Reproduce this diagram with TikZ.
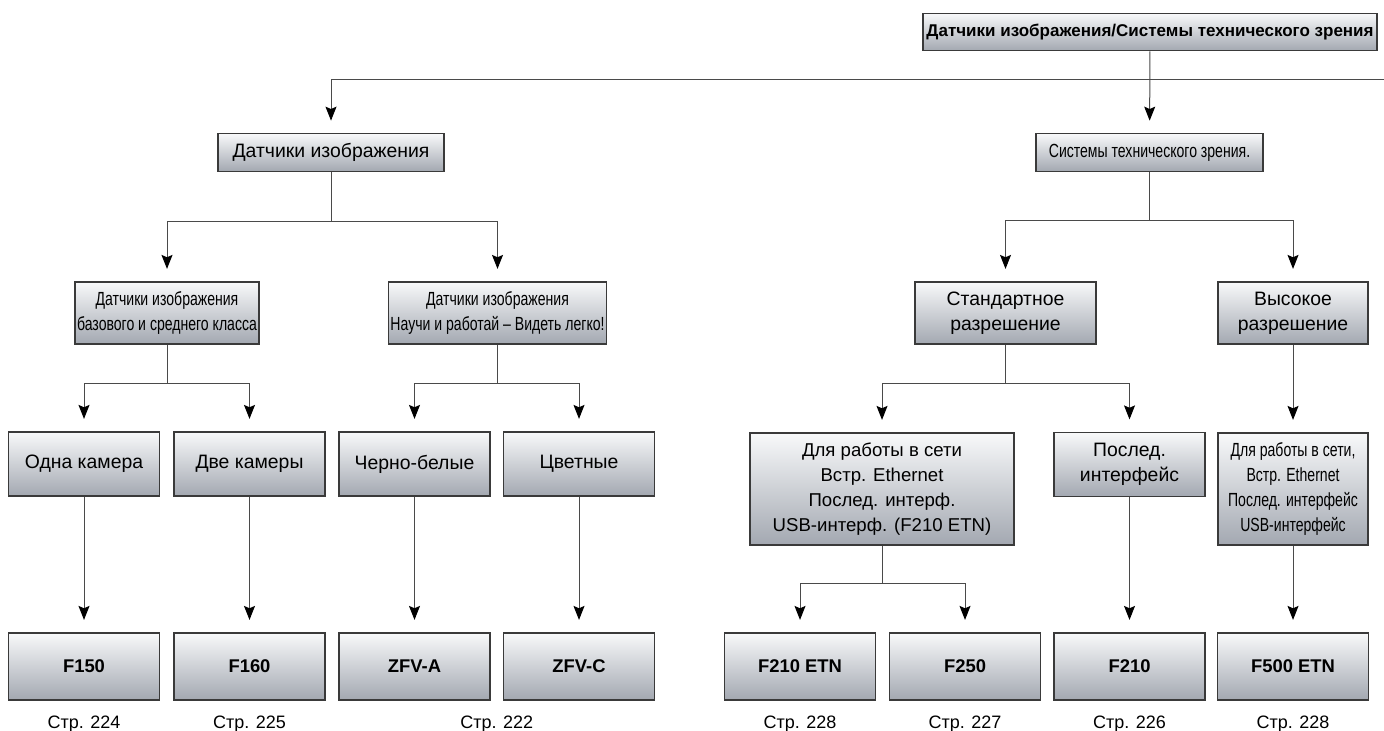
\documentclass[tikz,border=0pt]{standalone}
\usepackage{fontspec}
\setmainfont{Liberation Sans}
\newfontfamily\condfont[FakeStretch=0.74]{Liberation Sans}
\usepackage{tikz}
\usetikzlibrary{positioning,calc,arrows.meta}
\definecolor{boxtop}{HTML}{F8F9FA}
\definecolor{boxbot}{HTML}{A3A8B1}
\definecolor{boxline}{HTML}{3A3A3A}
\definecolor{wire}{HTML}{4A4A4A}

\begin{document}
\begin{tikzpicture}[x=0.5pt, y=-0.5pt,
      box/.style={draw=boxline, line width=0.6pt, top color=boxtop, bottom color=boxbot, inner sep=1pt, align=center, font=\fontsize{9.7}{12.5}\selectfont},
      cond/.style={font=\condfont\fontsize{9.5}{12.5}\selectfont},
      prod/.style={box, font=\bfseries\fontsize{9.2}{11}\selectfont, minimum width=75.5pt, minimum height=33.5pt},
      h1/.style={minimum height=18.75pt},
      h2/.style={minimum height=31pt},
      h3/.style={minimum height=32pt},
      h4/.style={minimum height=56pt},
      catw/.style={minimum width=75.5pt},
      arr/.style={draw=wire, line width=0.5pt, -{Stealth[length=7pt, width=5.5pt, inset=1.2pt, color=black]}, shorten >=6.25pt},
      pg/.style={font=\fontsize{9}{11}\selectfont, inner sep=0pt}]
    \useasboundingbox (0,0) rectangle (1384,731);

    \node[box, font=\bfseries\fontsize{8.5}{10}\selectfont, minimum width=227pt, h1] (root) at (1150,32) {Датчики изображения/Системы технического зрения};
    \node[box, minimum width=113pt, h1] (sens) at (331,152.5) {Датчики изображения};
    \node[box, cond, minimum width=113.5pt, h1] (vis) at (1149.5,152.5) {Системы технического зрения.};

    \node[box, cond, minimum width=91pt, h2] (basic) at (167,313) {Датчики изображения\\базового и среднего класса};
    \node[box, cond, minimum width=90.5pt, h2] (easy) at (497.5,313) {Датчики изображения\\Научи и работай – Видеть легко!};
    \node[box, minimum width=90.5pt, h2] (std) at (1005.5,313) {Стандартное\\разрешение};
    \node[box, minimum width=75pt, h2] (high) at (1293,313) {Высокое\\разрешение};

    \node[box, catw, h3] (one) at (84,464) {Одна камера};
    \node[box, catw, h3] (two) at (249.5,464) {Две камеры};
    \node[box, catw, h3] (bw) at (414.5,464) {Черно-белые};
    \node[box, catw, h3] (col) at (579,464) {Цветные};
    \node[box, font=\fontsize{9.3}{12.5}\selectfont, minimum width=132pt, h4] (net) at (882,489) {Для работы в сети\\Встр. Ethernet\\Послед. интерф.\\USB-интерф. (F210 ETN)};
    \node[box, catw, h3] (ser) at (1129.5,464.5) {Послед.\\интерфейс};
    \node[box, cond, minimum width=75pt, h4] (nethi) at (1293,489) {Для работы в сети,\\Встр. Ethernet\\Послед. интерфейс\\USB-интерфейс};

    \node[prod] (f150) at (84,666.5) {F150};
    \node[prod] (f160) at (249.5,666.5) {F160};
    \node[prod] (zfva) at (414.5,666.5) {ZFV-A};
    \node[prod] (zfvc) at (579,666.5) {ZFV-C};
    \node[prod] (f210etn) at (800,666.5) {F210 ETN};
    \node[prod] (f250) at (965,666.5) {F250};
    \node[prod] (f210) at (1129.5,666.5) {F210};
    \node[prod] (f500) at (1293,666.5) {F500 ETN};

    \node[pg, below=7.5pt of f150] (p224) {Стр. 224};
    \node[pg, below=7.5pt of f160] (p225) {Стр. 225};
    \node[pg, below=7.5pt] (p222) at ($(zfva.south)!.5!(zfvc.south)$) {Стр. 222};
    \node[pg, below=7.5pt of f210etn] (p228a) {Стр. 228};
    \node[pg, below=7.5pt of f250] (p227) {Стр. 227};
    \node[pg, below=7.5pt of f210] (p226) {Стр. 226};
    \node[pg, below=7.5pt of f500] (p228b) {Стр. 228};

    \coordinate (redge) at (1384,80);
    \draw[arr] (root) -- (vis);
    \draw[arr] (redge) -| (sens);

    \coordinate[below=25pt of sens] (sj);
    \draw[arr] (sens) -- (sj) -| (basic);
    \draw[arr] (sj) -| (easy);
    \coordinate[below=24.25pt of vis] (vj);
    \draw[arr] (vis) -- (vj) -| (std);
    \draw[arr] (vj) -| (high);

    \coordinate[below=19.5pt of basic] (bj);
    \draw[arr] (basic) -- (bj) -| (one);
    \draw[arr] (bj) -| (two);
    \coordinate[below=19.5pt of easy] (ej);
    \draw[arr] (easy) -- (ej) -| (bw);
    \draw[arr] (ej) -| (col);
    \coordinate[below=19.5pt of std] (stj);
    \draw[arr] (std) -- (stj) -| (net);
    \draw[arr] (stj) -| (ser);
    \draw[arr] (high) -- (nethi);

    \coordinate[below=19pt of net] (nj);
    \draw[arr] (net) -- (nj) -| (f210etn);
    \draw[arr] (nj) -| (f250);
    \draw[arr] (one) -- (f150);
    \draw[arr] (two) -- (f160);
    \draw[arr] (bw) -- (zfva);
    \draw[arr] (col) -- (zfvc);
    \draw[arr] (ser) -- (f210);
    \draw[arr] (nethi) -- (f500);
\end{tikzpicture}
\end{document}
